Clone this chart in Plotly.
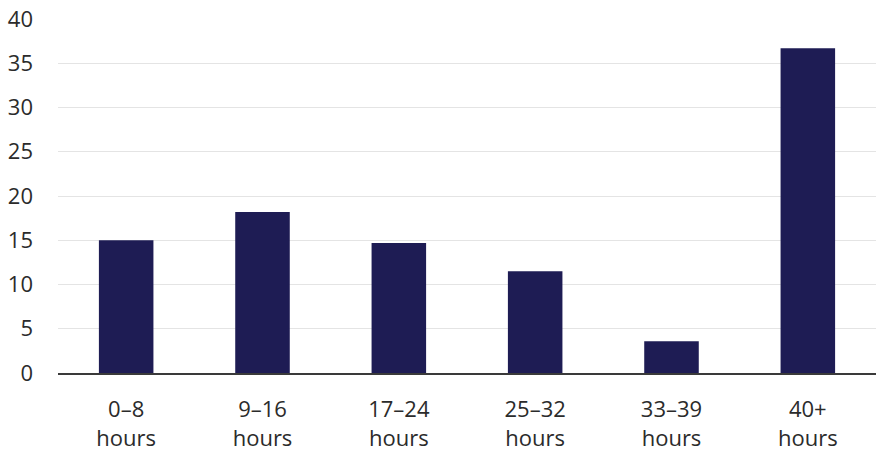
import plotly.graph_objects as go

# Weekly hours bands and share of respondents (%)
categories = ["0–8<br>hours", "9–16<br>hours", "17–24<br>hours",
              "25–32<br>hours", "33–39<br>hours", "40+<br>hours"]
values = [15.0, 18.2, 14.7, 11.5, 3.6, 36.7]
y_ticks = [0, 5, 10, 15, 20, 25, 30, 35, 40]

BAR_COLOR = "#1e1c54"
TEXT_COLOR = "#2b2b2b"
FONT = "Open Sans, Noto Sans, sans-serif"

fig = go.Figure(
    go.Bar(
        x=categories,
        y=values,
        marker=dict(color=BAR_COLOR, line=dict(width=0)),
        hoverinfo="skip",
    )
)

fig.update_layout(
    width=876,
    height=452,
    margin=dict(l=58, r=0, t=19, b=79),
    paper_bgcolor="white",
    plot_bgcolor="white",
    bargap=0.6,
    showlegend=False,
    font=dict(family=FONT, size=22, color=TEXT_COLOR),
)

fig.update_xaxes(
    showgrid=False,
    showline=True,
    linecolor="#3a3a3a",
    linewidth=1.5,
    ticks="",
    ticklabelstandoff=16,
    tickfont=dict(size=22, color=TEXT_COLOR),
)

fig.update_yaxes(
    range=[0, 40],
    tickvals=y_ticks,
    showgrid=True,
    gridcolor="#e4e4e4",
    gridwidth=1,
    zeroline=False,
    showline=False,
    ticks="",
    ticklabelstandoff=24,
    tickfont=dict(size=22, color=TEXT_COLOR),
)

fig.write_html("out.html")
